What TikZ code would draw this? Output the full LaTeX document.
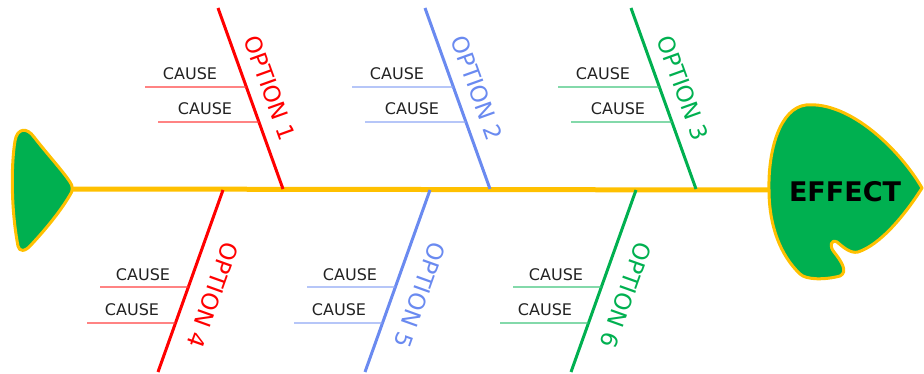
\documentclass[tikz,border=0pt]{standalone}
\usepackage{fontspec}
\setmainfont{DejaVu Sans}
\usetikzlibrary{calc}
\definecolor{spineorange}{HTML}{FFC000}
\definecolor{fishgreen}{HTML}{00B050}
\definecolor{optred}{HTML}{FF0000}
\definecolor{optblue}{HTML}{6A8AF0}
\definecolor{optgreen}{HTML}{00B050}
\definecolor{causeink}{HTML}{222222}
\tikzset{
  spine/.style={draw=spineorange, line width=5pt},
  fishpart/.style={draw=spineorange, fill=fishgreen, line width=3pt, line join=round},
  bone/.style={line width=3pt},
  causeline/.style={line width=1.4pt},
  causetext/.style={text=causeink, font=\fontsize{16}{16}\selectfont, inner sep=0pt},
  optlabel/.style={font=\fontsize{23}{23}\selectfont, inner sep=0pt},
  effecttext/.style={font=\bfseries\fontsize{27}{27}\selectfont, inner sep=0pt},
}
\begin{document}
\begin{tikzpicture}[x=1pt, y=-1pt]
\useasboundingbox (0,0) rectangle (924,374);

% tail fin
\draw[fishpart] (18,246) .. controls (11,210) and (11,165) .. (15,141)
  .. controls (17,128) and (27,127) .. (34,137)
  .. controls (48,155) and (62,170) .. (70,182)
  .. controls (73,186) and (73,191) .. (70,195)
  .. controls (60,212) and (45,230) .. (31,245)
  .. controls (25,252) and (19,252) .. (18,246) -- cycle;
\coordinate (tailtip) at (72,189);

% head
\draw[fishpart] (769,190) .. controls (768,150) and (780,108) .. (806,105)
  .. controls (850,101) and (900,150) .. (922,188)
  .. controls (905,215) and (880,245) .. (858,252)
  .. controls (850,254) and (842,246) .. (837,242)
  .. controls (831,239) and (829,246) .. (834,252)
  .. controls (842,262) and (848,272) .. (840,276)
  .. controls (825,280) and (806,280) .. (800,274)
  .. controls (780,255) and (769,225) .. (769,190) -- cycle;
\coordinate (headleft) at (769,190);
\node[effecttext] (effect) at (845,192) {EFFECT};

% spine
\draw[spine] (tailtip) -- (headleft);

% upper bones
\foreach \X/\c/\n in {218/optred/1, 425/optblue/2, 631/optgreen/3}{
  \coordinate (top\n) at (\X,8);
  \coordinate (base\n) at (\X+65,189);
  \draw[bone, \c] (top\n) -- (base\n);
  \coordinate (ua\n) at (\X-73,87);
  \coordinate (ub\n) at (\X-60,122);
  \draw[causeline, \c!75] (ua\n) -- ($(top\n)!0.4365!(base\n)$);
  \draw[causeline, \c!75] (ub\n) -- ($(top\n)!0.6298!(base\n)$);
  \node[causetext] (uca\n) at (\X-28,74) {CAUSE};
  \node[causetext] (ucb\n) at (\X-13,109) {CAUSE};
  \node[optlabel, text=\c, rotate=-70.2] (opt\n) at (\X+52,88) {OPTION \n};
}

% lower bones
\foreach \Y/\c/\n in {223/optred/4, 430/optblue/5, 636/optgreen/6}{
  \coordinate (base\n) at (\Y,190);
  \coordinate (tip\n) at (\Y-65,372);
  \draw[bone, \c] (base\n) -- (tip\n);
  \coordinate (la\n) at (\Y-123,287);
  \coordinate (lb\n) at (\Y-136,323);
  \draw[causeline, \c!75] (la\n) -- ($(base\n)!0.533!(tip\n)$);
  \draw[causeline, \c!75] (lb\n) -- ($(base\n)!0.731!(tip\n)$);
  \node[causetext] (lca\n) at (\Y-80,275) {CAUSE};
  \node[causetext] (lcb\n) at (\Y-91,310) {CAUSE};
  \node[optlabel, text=\c, rotate=-109.7] (opt\n) at (\Y-10,295) {OPTION \n};
}
\end{tikzpicture}
\end{document}
